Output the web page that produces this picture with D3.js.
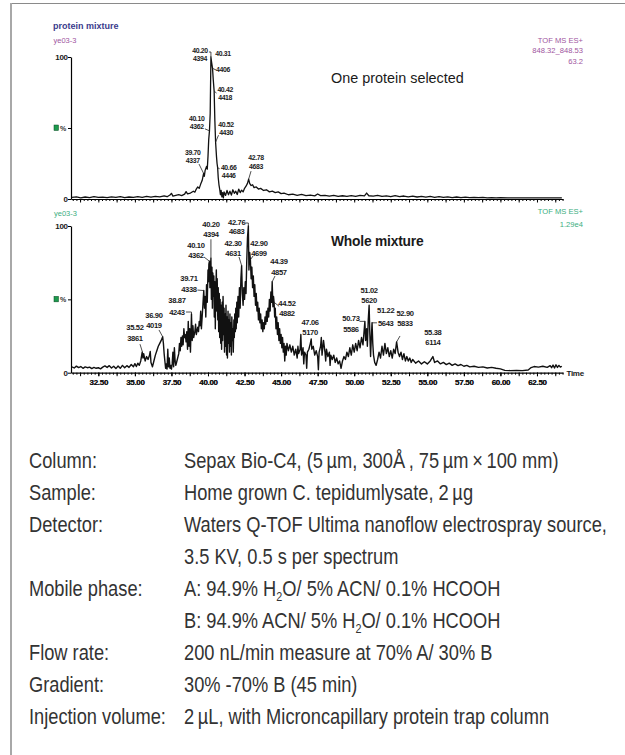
<!DOCTYPE html>
<html>
<head>
<meta charset="utf-8">
<script src="https://cdn.jsdelivr.net/npm/d3@7"></script>
<style>
  html, body { margin: 0; padding: 0; background: #fff; }
  svg { display: block; }
</style>
</head>
<body>
<div id="chart"></div>
<script>
// retention time (min), relative intensity (%)
const topTrace = [
  [30.7,1.2],[31.0,1.5],[31.3,0.8],[31.6,1.4],[31.9,1.0],[32.2,1.6],[32.5,1.1],[32.8,1.3],[33.1,0.9],[33.4,1.5],
  [33.7,1.2],[34.0,1.7],[34.3,1.0],[34.6,1.4],[34.9,1.1],[35.2,1.6],[35.5,1.2],[35.8,1.8],[36.1,1.3],[36.4,1.9],
  [36.7,1.5],[37.0,2.2],[37.2,1.6],[37.4,2.8],[37.5,4.0],[37.6,2.0],[37.8,2.5],[38.0,3.0],[38.2,2.4],[38.4,3.4],
  [38.5,5.2],[38.6,3.6],[38.8,4.2],[39.0,5.5],[39.1,4.8],[39.2,7.0],[39.3,8.5],[39.4,7.5],[39.5,10.5],[39.6,13.0],
  [39.7,18.0],[39.75,16.0],[39.8,20.0],[39.9,23.0],[39.95,21.0],[40.0,30.0],[40.05,42.0],[40.1,48.0],[40.15,60.0],[40.2,100],
  [40.25,96],[40.31,92],[40.36,84],[40.42,76],[40.47,55],[40.52,40],[40.58,30],[40.62,25],[40.66,22],[40.7,15],
  [40.75,10],[40.8,7],[40.85,3],[40.9,6],[40.95,1.5],[41.0,4.5],[41.05,0.8],[41.1,5],[41.2,2.5],[41.3,6],
  [41.4,3],[41.5,5.5],[41.6,2.8],[41.7,6.5],[41.8,4],[41.9,5.5],[42.0,3.2],[42.1,7],[42.2,4.5],[42.3,6.2],
  [42.4,5],[42.5,7.5],[42.6,9],[42.7,11],[42.78,14],[42.85,11],[42.95,9.5],[43.05,10],[43.15,8],[43.3,8.5],
  [43.45,7],[43.6,7.5],[43.8,6],[44.0,6.5],[44.2,5],[44.4,5.5],[44.6,4.5],[44.8,5],[45.0,3.8],[45.2,4.2],
  [45.5,3],[45.8,3.5],[46.1,2.6],[46.4,3.2],[46.7,2.4],[47.0,2.8],[47.3,2.2],[47.5,3.5],[47.7,2.4],[48.0,2.6],
  [48.3,2.0],[48.6,2.5],[48.9,1.8],[49.2,2.3],[49.5,1.9],[49.8,2.4],[50.1,1.8],[50.4,2.5],[50.7,2.2],[50.85,4.2],
  [51.0,2.3],[51.3,2.0],[51.6,2.6],[51.9,1.8],[52.2,2.2],[52.5,1.6],[52.8,2.3],[53.1,1.7],[53.4,2.1],[53.7,1.5],
  [54.0,2.0],[54.3,1.4],[54.6,1.9],[54.9,1.3],[55.2,1.8],[55.5,1.2],[55.8,1.6],[56.1,1.1],[56.4,1.5],[56.7,1.0],
  [57.0,1.4],[57.3,1.0],[57.6,1.3],[57.9,0.9],[58.2,1.2],[58.5,0.9],[58.8,1.1],[59.1,0.8],[59.4,1.0],[59.7,0.8],
  [60.0,0.9],[60.5,0.8],[61.0,0.8],[61.5,0.8],[62.0,0.8],[62.5,0.8],[63.0,0.8],[63.5,0.8],[64.2,0.8]
];

const bottomTrace = [
  [30.7,4],[30.85,3.2],[31.0,4.5],[31.15,3.5],[31.3,4.2],[31.45,3.0],[31.6,4.0],[31.75,3.4],[31.9,3.8],[32.05,2.8],
  [32.2,3.6],[32.35,3.0],[32.5,3.4],[32.65,2.6],[32.8,3.8],[32.95,4.6],[33.1,3.6],[33.25,4.8],[33.4,3.2],[33.55,4.4],
  [33.7,2.8],[33.85,4.6],[34.0,3.0],[34.15,5.0],[34.3,3.4],[34.45,4.8],[34.6,3.6],[34.75,5.6],[34.9,4.0],[35.0,6.2],
  [35.1,4.2],[35.2,6.5],[35.3,5.0],[35.4,8.0],[35.5,14.0],[35.55,10],[35.6,13],[35.7,8],[35.8,11],[35.9,9],
  [36.0,12],[36.05,14.5],[36.1,7],[36.2,4],[36.3,8],[36.4,12],[36.5,15],[36.6,18],[36.7,20],[36.8,22],
  [36.9,24.5],[36.95,20],[37.0,13],[37.05,8],[37.1,3],[37.15,6],[37.2,2.5],[37.25,16],[37.3,4],[37.35,10],
  [37.4,3],[37.45,5],[37.5,2.5],[37.55,6],[37.6,14],[37.65,4],[37.7,17],[37.75,8],[37.8,5],[37.9,9],
  [38.0,13],[38.05,20],[38.1,15],[38.15,24],[38.2,18],[38.25,25],[38.3,19],[38.35,30],[38.4,24],[38.45,26],
  [38.5,21],[38.55,28],[38.6,16],[38.65,35],[38.7,18],[38.75,30],[38.8,14],[38.87,40],[38.92,22],[38.97,32],
  [39.02,24],[39.1,28],[39.15,33],[39.2,26],[39.3,31],[39.35,28],[39.4,35],[39.45,32],[39.5,42],[39.55,30],
  [39.6,38],[39.65,46],[39.71,56],[39.76,44],[39.8,52],[39.85,38],[39.9,60],[39.95,48],[40.0,70],[40.03,62],
  [40.06,74],[40.1,76],[40.13,58],[40.17,72],[40.2,78],[40.23,50],[40.27,72],[40.3,44],[40.33,68],[40.37,52],
  [40.4,66],[40.43,38],[40.47,62],[40.5,30],[40.53,55],[40.57,70],[40.6,42],[40.63,64],[40.67,36],[40.7,58],
  [40.73,28],[40.77,54],[40.8,24],[40.83,50],[40.87,20],[40.9,46],[40.93,16],[40.97,48],[41.0,22],[41.03,52],
  [41.07,26],[41.1,44],[41.13,14],[41.17,40],[41.2,18],[41.23,46],[41.27,12],[41.3,38],[41.33,10],[41.37,42],
  [41.4,20],[41.43,36],[41.47,14],[41.5,40],[41.53,18],[41.57,34],[41.6,12],[41.63,38],[41.67,22],[41.7,30],
  [41.73,14],[41.77,36],[41.8,24],[41.83,40],[41.87,28],[41.9,44],[41.93,30],[41.97,48],[42.0,34],[42.05,52],
  [42.1,38],[42.15,58],[42.2,44],[42.25,64],[42.3,73],[42.35,54],[42.4,46],[42.45,58],[42.5,50],[42.55,62],
  [42.6,54],[42.65,76],[42.7,92],[42.76,100],[42.8,70],[42.85,82],[42.9,77],[42.95,64],[43.0,72],[43.05,58],
  [43.1,66],[43.15,52],[43.2,60],[43.25,46],[43.3,54],[43.35,42],[43.4,48],[43.45,36],[43.5,44],[43.55,34],
  [43.6,40],[43.65,30],[43.7,36],[43.75,28],[43.8,34],[43.85,30],[43.9,38],[43.95,33],[44.0,42],[44.05,35],
  [44.1,44],[44.15,38],[44.2,50],[44.25,42],[44.3,55],[44.35,48],[44.39,62],[44.44,45],[44.48,52],[44.52,48],
  [44.56,38],[44.6,44],[44.65,30],[44.7,38],[44.75,26],[44.8,34],[44.85,22],[44.9,30],[44.95,20],[45.0,26],
  [45.05,17],[45.1,24],[45.15,14],[45.2,20],[45.25,8],[45.3,18],[45.35,12],[45.4,20],[45.5,15],[45.6,19],
  [45.7,14],[45.8,18],[45.9,12],[46.0,16],[46.1,10],[46.15,18],[46.2,13],[46.3,16],[46.35,26],[46.4,12],
  [46.5,17],[46.55,6],[46.6,14],[46.7,12],[46.75,3],[46.8,14],[46.9,16],[47.0,20],[47.06,23],[47.1,16],
  [47.2,18],[47.3,12],[47.4,15],[47.5,11],[47.55,2],[47.6,14],[47.7,18],[47.75,24],[47.8,12],[47.9,22],
  [48.0,14],[48.05,8],[48.1,16],[48.2,11],[48.3,14],[48.35,5],[48.4,12],[48.5,9],[48.6,12],[48.7,7],
  [48.8,10],[48.9,6],[49.0,8],[49.1,3],[49.2,8],[49.3,11],[49.4,9],[49.5,14],[49.6,11],[49.7,17],
  [49.8,12],[49.9,19],[50.0,14],[50.1,20],[50.2,15],[50.3,22],[50.4,17],[50.5,24],[50.6,19],[50.73,35],
  [50.78,22],[50.85,30],[50.9,18],[50.96,36],[51.02,46],[51.07,26],[51.12,11],[51.17,24],[51.22,34],[51.27,20],
  [51.32,12],[51.4,7],[51.5,5],[51.6,9],[51.7,14],[51.8,10],[51.9,18],[52.0,12],[52.1,20],[52.2,13],
  [52.3,17],[52.4,11],[52.5,15],[52.6,10],[52.7,16],[52.8,13],[52.9,21],[53.0,14],[53.1,11],[53.2,14],
  [53.3,9],[53.4,13],[53.5,8],[53.6,11],[53.7,8],[53.8,10],[53.9,7],[54.0,9],[54.2,6.5],[54.4,8],
  [54.6,6],[54.8,7.5],[55.0,6],[55.2,8],[55.38,11],[55.5,7],[55.7,8],[55.9,6],[56.1,7],[56.3,5.5],
  [56.5,6.5],[56.7,5],[56.9,6],[57.1,4.8],[57.3,5.6],[57.5,4.4],[57.7,5],[57.9,4],[58.2,4.4],[58.5,3.6],
  [58.8,4],[59.1,3.2],[59.4,3.6],[59.7,3],[60.0,2.6],[60.3,1.6],[60.7,1.4],[61.1,1.6],[61.5,1.4],[61.9,1.8],
  [62.1,3.5],[62.3,4.2],[62.6,3.8],[62.9,4.4],[63.2,3.6],[63.4,4.8],[63.5,3.4],[63.6,5.2],[63.7,3.2],[63.8,5.4],
  [63.9,3.6],[64.0,5.0],[64.1,3.8],[64.2,4.4]
];

// labelled peaks: retention time, second label line
const topPeaks = [['39.70','4337'],['40.10','4362'],['40.20','4394'],['40.31','4406'],['40.42','4418'],['40.52','4430'],['40.66','4446'],['42.78','4683']];
const bottomPeaks = [['35.52','3861'],['36.90','4019'],['38.87','4243'],['39.71','4338'],['40.10','4362'],['40.20','4394'],['42.30','4631'],['42.76','4683'],
  ['42.90','4699'],['44.39','4857'],['44.52','4882'],['47.06','5170'],['50.73','5586'],['51.02','5620'],['51.22','5643'],['52.90','5833'],['55.38','6114']];

const xTickLabels = ['32.50','35.00','37.50','40.00','42.50','45.00','47.50','50.00','52.50','55.00','57.50','60.00','62.50'];
const yTickLabels = ['0','100'];

const topHeader = ['TOF MS ES+', '848.32_848.53', '63.2'];
const bottomHeader = ['TOF MS ES+', '1.29e4'];

const tableLabels = ['Column:', 'Sample:', 'Detector:', 'Mobile phase:', 'Flow rate:', 'Gradient:', 'Injection volume:'];
const tableValues = [
  ['Sepax Bio-C4, (5\u2009\u00b5m, 300\u00c5\u2009, 75\u2009\u00b5m\u2009\u00d7\u2009100 mm)'],
  ['Home grown  C. tepidumlysate, 2\u2009\u00b5g'],
  ['Waters Q-TOF Ultima nanoflow electrospray source,', '3.5 KV, 0.5 s per spectrum'],
  ['A: 94.9% H_2O/ 5% ACN/ 0.1% HCOOH', 'B: 94.9% ACN/ 5% H_2O/ 0.1% HCOOH'],
  ['200 nL/min measure at 70% A/ 30% B'],
  ['30% -70% B (45 min)'],
  ['2\u2009\u00b5L, with Microncapillary protein trap column']
];

const width = 625, height = 755;
const labelFont = 'Liberation Sans, Arial, sans-serif';

const svg = d3.select('#chart').append('svg')
    .attr('width', width)
    .attr('height', height);

// frame
svg.append('line').attr('x1', 11).attr('x2', width).attr('y1', 3.5).attr('y2', 3.5)
    .attr('stroke', '#8a8a8a').attr('stroke-width', 1.2);
svg.append('line').attr('x1', 11).attr('x2', 11).attr('y1', 3).attr('y2', height)
    .attr('stroke', '#a8a8a8').attr('stroke-width', 2);

const x = d3.scaleLinear().domain([30.63, 64.28]).range([71, 563]);
const yTop = d3.scaleLinear().domain([0, 100]).range([199, 57]);
const yBot = d3.scaleLinear().domain([0, 100]).range([372.7, 226]);

const minorTicks = d3.range(30.75, 64.26, 0.25);
const majorTicks = d3.range(31.25, 64.26, 1.25);

function drawPanel(y, trace, withLabels, strokeWidth) {
    const g = svg.append('g');

    // x axis
    g.append('g')
        .attr('transform', `translate(0,${y(0)})`)
        .call(d3.axisBottom(x).tickValues(minorTicks).tickSize(2).tickSizeOuter(0).tickFormat(''))
        .call(a => a.select('.domain').attr('stroke', '#000').attr('stroke-width', 1.2));
    const major = g.append('g')
        .attr('transform', `translate(0,${y(0)})`)
        .call(d3.axisBottom(x).tickValues(withLabels ? xTickLabels.map(Number).concat(majorTicks) : majorTicks)
            .tickSize(3.5).tickSizeOuter(0).tickPadding(3.5)
            .tickFormat(d => withLabels && xTickLabels.includes(d.toFixed(2)) ? d.toFixed(2) : ''));
    major.select('.domain').remove();
    major.selectAll('text')
        .attr('font-family', labelFont).attr('font-size', 8).attr('font-weight', 'bold')
        .attr('letter-spacing', -0.3).attr('fill', '#1a1a1a');

    // y axis
    g.append('g')
        .attr('transform', `translate(${x.range()[0]},0)`)
        .call(d3.axisLeft(y).tickValues([0, 50, 100]).tickSize(3).tickSizeOuter(0).tickPadding(0.5)
            .tickFormat(d => yTickLabels.includes(String(d)) ? String(d) : ''))
        .call(a => a.select('.domain').attr('stroke-width', 1.2))
        .call(a => a.selectAll('text')
            .attr('font-family', labelFont).attr('font-size', 8).attr('font-weight', 'bold')
            .attr('letter-spacing', -0.4).attr('fill', '#1a1a1a'));

    g.append('rect')
        .attr('x', 54).attr('y', y(50) - 3).attr('width', 4.5).attr('height', 5.5)
        .attr('fill', '#1d9a4e').attr('stroke', '#0b4a22').attr('stroke-width', 0.5);
    g.append('text')
        .attr('x', 60).attr('y', y(50) + 2.6)
        .attr('font-family', labelFont).attr('font-size', 7).attr('font-weight', 'bold')
        .attr('fill', '#333').text('%');

    // trace
    g.append('path')
        .datum(trace)
        .attr('fill', 'none')
        .attr('stroke', '#111')
        .attr('stroke-width', strokeWidth)
        .attr('stroke-linejoin', 'round')
        .attr('d', d3.line().x(d => x(d[0])).y(d => y(d[1])));

    return g;
}

// [text dx, first baseline dy, line gap, leader dx, leader dy, elbow]
const topLayout = [
    [-10.9, -18.6, 8, -4.6, -9.4, false],
    [-12.8, -9.6, 8, -4.5, -2, false],
    [-10.9, -4.4, 8, -2, -5, true],
    [10.5, -12, 16, 3.5, 1.6, false],
    [11, 1, 8, 2.4, 2, false],
    [10.5, -15, 8, 2.9, -7, false],
    [11, 2.5, 8, 2, 1, false],
    [7.4, -19.5, 9.5, 2.4, -8, false]
];
const bottomLayout = [
    [-7.5, -21.7, 11, -2.5, -8, false],
    [-8.7, -18.3, 10, -3.7, -6.8, false],
    [-14.5, -11.5, 12, -5.5, -2, true],
    [-14.8, -10, 11, -6.3, -0.5, false],
    [-13.5, -13.7, 10, -5.5, -4.2, false],
    [0, -30.8, 10, 0, -19, false],
    [-8.6, -20, 10, -2.6, -8.6, false],
    [-11.7, -1.5, 9.7, -3, -3, true],
    [8.5, -14.2, 10, 2.6, -3.7, false],
    [6.8, -18.2, 11, 2.8, -5.7, false],
    [12.9, 4.2, 10, 5, 4, false],
    [-1.1, -14, 10.5, 0, 0, false],
    [-13.9, 0.1, 11, -5.4, 0, false],
    [0, -12.5, 10, 0, 0, false],
    [13.6, -9.8, 12.5, 4.9, 0, false],
    [8.4, -25.4, 10, 3.4, -5.9, false],
    [0, -21.6, 10.5, 0, 0, false]
];

function drawPeakLabels(g, y, trace, peaks, layout, size) {
    const bisect = d3.bisector(d => d[0]).center;
    peaks.forEach(([rt, mass], i) => {
        const [tdx, tdy, gap, lx, ly, elbow] = layout[i];
        const pt = trace[bisect(trace, +rt)];
        const px = x(+rt), py = y(pt[1]);
        if (lx || ly) {
            const p = d3.path();
            p.moveTo(px, py);
            if (elbow) { p.lineTo(px, py + ly); p.lineTo(px + lx, py + ly); }
            else p.lineTo(px + lx, py + ly);
            g.append('path').attr('d', p.toString())
                .attr('fill', 'none').attr('stroke', '#222').attr('stroke-width', 0.8);
        }
        const lbl = g.append('g')
            .attr('text-anchor', 'middle')
            .attr('font-family', labelFont).attr('font-size', size).attr('font-weight', 'bold')
            .attr('letter-spacing', -0.35).attr('fill', '#1a1a1a');
        lbl.append('text').attr('x', px + tdx).attr('y', py + tdy).text(rt);
        lbl.append('text').attr('x', px + tdx).attr('y', py + tdy + gap).text(mass);
    });
}

const gTop = drawPanel(yTop, topTrace, false, 1.3);
const gBot = drawPanel(yBot, bottomTrace, true, 1.4);
drawPeakLabels(gTop, yTop, topTrace, topPeaks, topLayout, 6.9);
drawPeakLabels(gBot, yBot, bottomTrace, bottomPeaks, bottomLayout, 7.6);

// headers
svg.append('text').attr('x', 53).attr('y', 29)
    .attr('font-family', labelFont).attr('font-size', 9).attr('font-weight', 'bold')
    .attr('fill', '#3b3b8c').text('protein mixture');
svg.append('text').attr('x', 53.5).attr('y', 42.5)
    .attr('font-family', labelFont).attr('font-size', 7.5)
    .attr('fill', '#a055a0').text('ye03-3');
svg.append('text').attr('x', 54).attr('y', 216)
    .attr('font-family', labelFont).attr('font-size', 7.5)
    .attr('fill', '#3bae80').text('ye03-3');

svg.append('g').selectAll('text')
    .data(topHeader).join('text')
    .attr('x', 583).attr('y', (d, i) => 42.5 + i * 10.7)
    .attr('text-anchor', 'end')
    .attr('font-family', labelFont).attr('font-size', 7.6)
    .attr('fill', '#a055a0').text(d => d);
svg.append('g').selectAll('text')
    .data(bottomHeader).join('text')
    .attr('x', 583).attr('y', (d, i) => 214 + i * 12.5)
    .attr('text-anchor', 'end')
    .attr('font-family', labelFont).attr('font-size', 7.6)
    .attr('fill', '#3bae80').text(d => d);

svg.append('text').attr('x', 331).attr('y', 83)
    .attr('font-family', labelFont).attr('font-size', 14.4)
    .attr('fill', '#1a1a1a').text('One protein selected');
svg.append('text').attr('x', 331).attr('y', 245.5)
    .attr('font-family', labelFont).attr('font-size', 13.8).attr('font-weight', 'bold')
    .attr('letter-spacing', -0.2)
    .attr('fill', '#1a1a1a').text('Whole mixture');

svg.append('text').attr('x', 566.5).attr('y', 376)
    .attr('font-family', labelFont).attr('font-size', 8).attr('font-weight', 'bold')
    .attr('letter-spacing', -0.3)
    .attr('fill', '#1a1a1a').text('Time');

// conditions table (condensed face: Liberation Sans squeezed horizontally)
const squeeze = 0.83;
const rowTop = 468, rowStep = 32;
let line = 0;
const table = svg.append('g')
    .attr('font-family', labelFont).attr('font-size', 22)
    .attr('fill', '#333').style('white-space', 'pre');

tableLabels.forEach((label, i) => {
    table.append('text')
        .attr('transform', `translate(29,${rowTop + line * rowStep}) scale(${squeeze},1)`)
        .text(label);
    tableValues[i].forEach(v => {
        const t = table.append('text')
            .attr('transform', `translate(184,${rowTop + line * rowStep}) scale(${squeeze},1)`);
        v.split(/_(\d)/).forEach((part, k) => {
            if (k % 2) t.append('tspan').attr('font-size', 13).attr('dy', 4.5).text(part);
            else t.append('tspan').attr('dy', k ? -4.5 : 0).text(part);
        });
        line++;
    });
});
</script>
</body>
</html>
